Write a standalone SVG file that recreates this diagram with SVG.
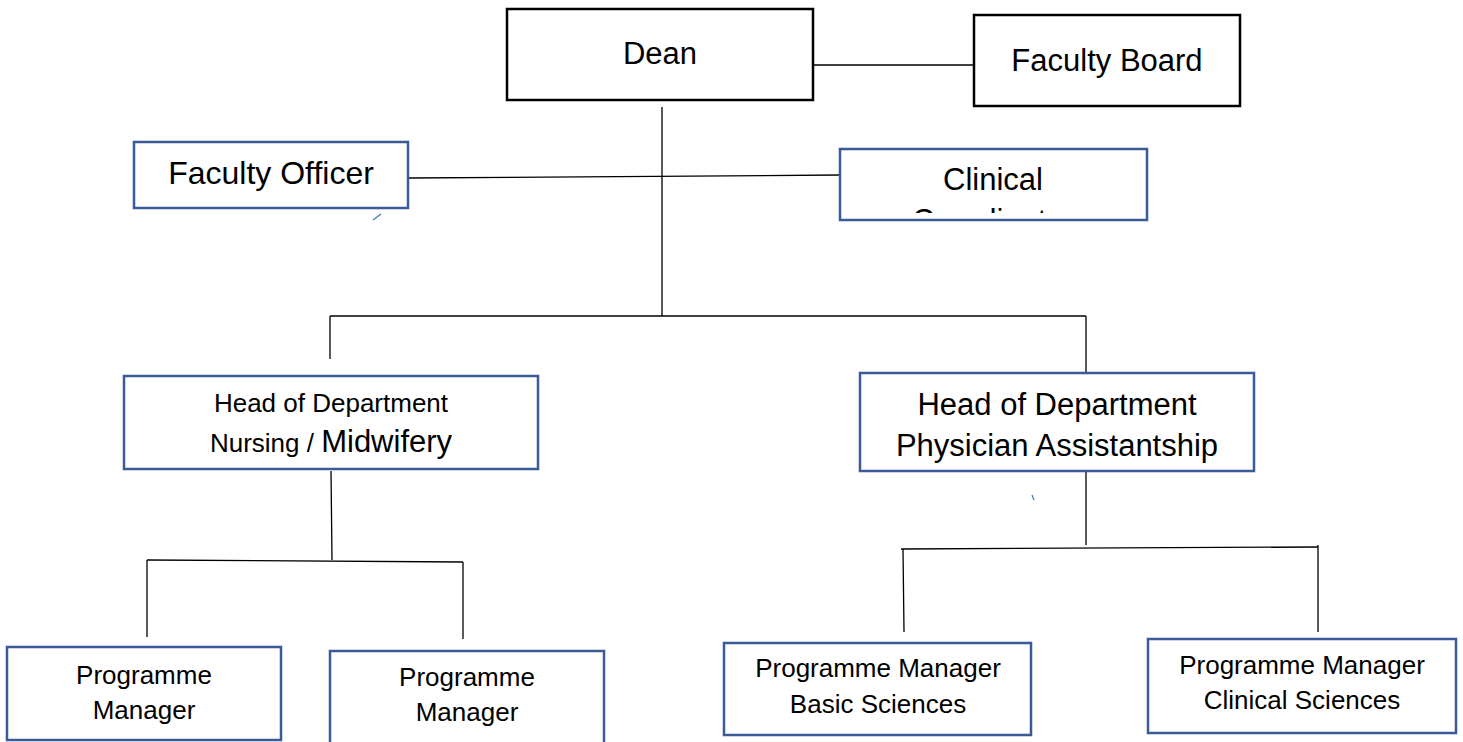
<svg xmlns="http://www.w3.org/2000/svg" width="1463" height="742" viewBox="0 0 1463 742">
<style>
.bk{fill:#fff;stroke:#000;stroke-width:2.5}
.bl{fill:#fff;stroke:#3a5a98;stroke-width:2.5}
.t{font-family:"Liberation Sans",Arial,sans-serif;fill:#000;text-anchor:middle}
.c{fill:none;stroke:#000;stroke-width:1.3}
</style>
<defs>
<clipPath id="clipClin"><rect x="841" y="150" width="305" height="63"/></clipPath>
</defs>
<g id="connectors">
<line class="c" x1="813" y1="65" x2="974" y2="65" stroke="#444"/>
<line class="c" x1="408" y1="178" x2="840" y2="175"/>
<line class="c" x1="662" y1="107" x2="662" y2="316"/>
<line class="c" x1="330" y1="316" x2="1086" y2="316"/>
<line class="c" x1="330" y1="316" x2="330" y2="359"/>
<line class="c" x1="1086" y1="316" x2="1086" y2="372"/>
<line class="c" x1="331" y1="471" x2="332" y2="560"/>
<line class="c" x1="147" y1="560" x2="463" y2="562"/>
<line class="c" x1="147" y1="560" x2="147" y2="637"/>
<line class="c" x1="463" y1="562" x2="463" y2="639"/>
<line class="c" x1="1086" y1="471" x2="1086" y2="545"/>
<line class="c" x1="901" y1="549" x2="1318" y2="547"/>
<line class="c" x1="903" y1="549" x2="904" y2="632"/>
<line class="c" x1="1318" y1="545" x2="1318" y2="632"/>
<line x1="373" y1="220" x2="381" y2="214" stroke="#4472c4" stroke-width="1.2"/>
<line x1="1032" y1="495" x2="1034" y2="500" stroke="#4472c4" stroke-width="1.2"/>
</g>
<g id="dean">
<rect class="bk" x="507" y="9" width="306" height="91"/>
<text class="t" x="660" y="64" font-size="31">Dean</text>
</g>
<g id="faculty-board">
<rect class="bk" x="974" y="15" width="266" height="91"/>
<text class="t" x="1107" y="71" font-size="31">Faculty Board</text>
</g>
<g id="faculty-officer">
<rect class="bl" x="134" y="142" width="274" height="66"/>
<text class="t" x="271" y="184" font-size="32">Faculty Officer</text>
</g>
<g id="clinical-coordinator">
<rect class="bl" x="840" y="149" width="307" height="71"/>
<g clip-path="url(#clipClin)">
<text class="t" x="993" y="190" font-size="31">Clinical</text>
<text class="t" x="993" y="231" font-size="31">Coordinator</text>
</g>
</g>
<g id="hod-nursing">
<rect class="bl" x="124" y="376" width="414" height="93"/>
<text class="t" x="331" y="412" font-size="26">Head of Department</text>
<text class="t" x="331" y="452"><tspan font-size="26">Nursing / </tspan><tspan font-size="31">Midwifery</tspan></text>
</g>
<g id="hod-pa">
<rect class="bl" x="860" y="373" width="394" height="98"/>
<text class="t" x="1057" y="415" font-size="31">Head of Department</text>
<text class="t" x="1057" y="456" font-size="31">Physician Assistantship</text>
</g>
<g id="pm-1">
<rect class="bl" x="7" y="647" width="274" height="93"/>
<text class="t" x="144" y="684" font-size="26">Programme</text>
<text class="t" x="144" y="719" font-size="26">Manager</text>
</g>
<g id="pm-2">
<rect class="bl" x="330" y="651" width="274" height="96"/>
<text class="t" x="467" y="686" font-size="26">Programme</text>
<text class="t" x="467" y="721" font-size="26">Manager</text>
</g>
<g id="pm-basic">
<rect class="bl" x="724" y="643" width="307" height="92"/>
<text class="t" x="878" y="677" font-size="26">Programme Manager</text>
<text class="t" x="878" y="713" font-size="26">Basic Sciences</text>
</g>
<g id="pm-clinical">
<rect class="bl" x="1148" y="639" width="308" height="94"/>
<text class="t" x="1302" y="674" font-size="26">Programme Manager</text>
<text class="t" x="1302" y="709" font-size="26">Clinical Sciences</text>
</g>
</svg>
